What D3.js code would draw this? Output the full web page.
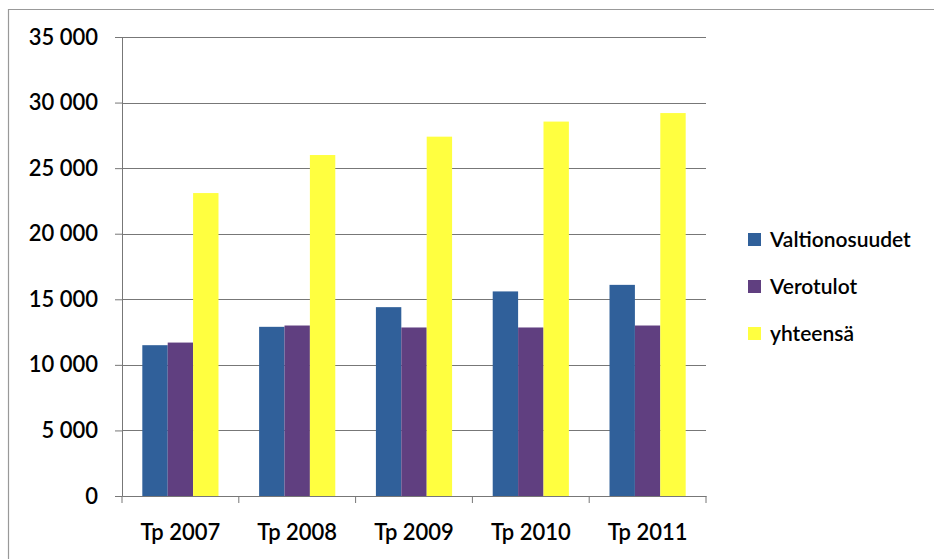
<!DOCTYPE html>
<html>
<head>
<meta charset="utf-8">
<script src="https://cdn.jsdelivr.net/npm/d3@7/dist/d3.min.js"></script>
<style>
  body { margin: 0; background: #fff; }
  svg text { font-family: Lato, sans-serif; font-weight: 600; fill: #000; }
</style>
</head>
<body>
<div id="chart"></div>
<script>
// data
const years = ["Tp 2007", "Tp 2008", "Tp 2009", "Tp 2010", "Tp 2011"];
const seriesNames = ["Valtionosuudet", "Verotulot", "yhteensä"];
const valtionosuudet = [11500, 12900, 14400, 15600, 16100];
const verotulot = [11700, 13000, 12850, 12850, 13000];
const yhteensa = [23100, 26000, 27400, 28550, 29200];
const yTicks = [0, 5000, 10000, 15000, 20000, 25000, 30000, 35000];
const colors = ["#30609a", "#603f80", "#ffff40"];

const W = 934, H = 559;
const margin = {left: 122, right: 228, top: 37, bottom: 63};

const svg = d3.select("#chart").append("svg")
  .attr("width", W).attr("height", H);

// outer frame
svg.append("path")
  .attr("d", "M8.5," + H + " V9.5 H" + W)
  .attr("fill", "none").attr("stroke", "#999").attr("stroke-width", 1.2);

const x = d3.scaleBand().domain(years)
  .range([margin.left, W - margin.right]).paddingInner(0).paddingOuter(0);
const xs = d3.scaleBand().domain(seriesNames)
  .range([0, x.bandwidth()]).paddingOuter(0.8).paddingInner(0);
const y = d3.scaleLinear().domain([0, 35000]).range([H - margin.bottom, margin.top]);

const fmt = v => d3.format(",")(v).replace(",", " ");

// grid + y labels
const yAxis = svg.append("g").attr("transform", "translate(" + margin.left + ",0)")
  .call(d3.axisLeft(y).tickValues(yTicks).tickSize(7).tickFormat(fmt));
yAxis.select(".domain").attr("stroke", "#777");
yAxis.selectAll(".tick line").attr("stroke", "#777");
yAxis.selectAll(".tick text").attr("x", -24).attr("font-size", 22).attr("fill", "#000");

svg.append("g").selectAll("line").data(yTicks.filter(t => t > 0)).join("line")
  .attr("x1", margin.left).attr("x2", W - margin.right)
  .attr("y1", d => Math.round(y(d)) + 0.5).attr("y2", d => Math.round(y(d)) + 0.5)
  .attr("stroke", "#777").attr("stroke-width", 1);

// bars
const rows = years.map((yr, i) => ({year: yr, vals: [valtionosuudet[i], verotulot[i], yhteensa[i]]}));
svg.append("g").selectAll("g").data(rows).join("g")
  .attr("transform", d => "translate(" + x(d.year) + ",0)")
  .selectAll("rect").data(d => d.vals.map((v, k) => ({k: k, v: v}))).join("rect")
  .attr("x", d => xs(seriesNames[d.k]))
  .attr("width", xs.bandwidth())
  .attr("y", d => y(d.v))
  .attr("height", d => y(0) - y(d.v))
  .attr("fill", d => colors[d.k]);

// x axis
const xAxis = svg.append("g").attr("transform", "translate(0," + y(0) + ")")
  .call(d3.axisBottom(x).tickSize(0).tickPadding(28));
xAxis.select(".domain").attr("stroke", "#777");
xAxis.selectAll(".tick text").attr("font-size", 22).attr("fill", "#000");
xAxis.selectAll("line.sep").data(years.concat([null])).join("line").attr("class", "sep")
  .attr("x1", (d, i) => margin.left + i * x.step()).attr("x2", (d, i) => margin.left + i * x.step())
  .attr("y1", 0).attr("y2", 7).attr("stroke", "#777");

// legend
const legend = svg.append("g").attr("transform", "translate(748,233)");
seriesNames.forEach((s, i) => {
  const g = legend.append("g").attr("transform", "translate(0," + (i * 47) + ")");
  g.append("rect").attr("width", 13).attr("height", 13).attr("fill", colors[i]);
  g.append("text").attr("x", 22).attr("y", 14).attr("font-size", 21).text(s);
});
</script>
</body>
</html>
